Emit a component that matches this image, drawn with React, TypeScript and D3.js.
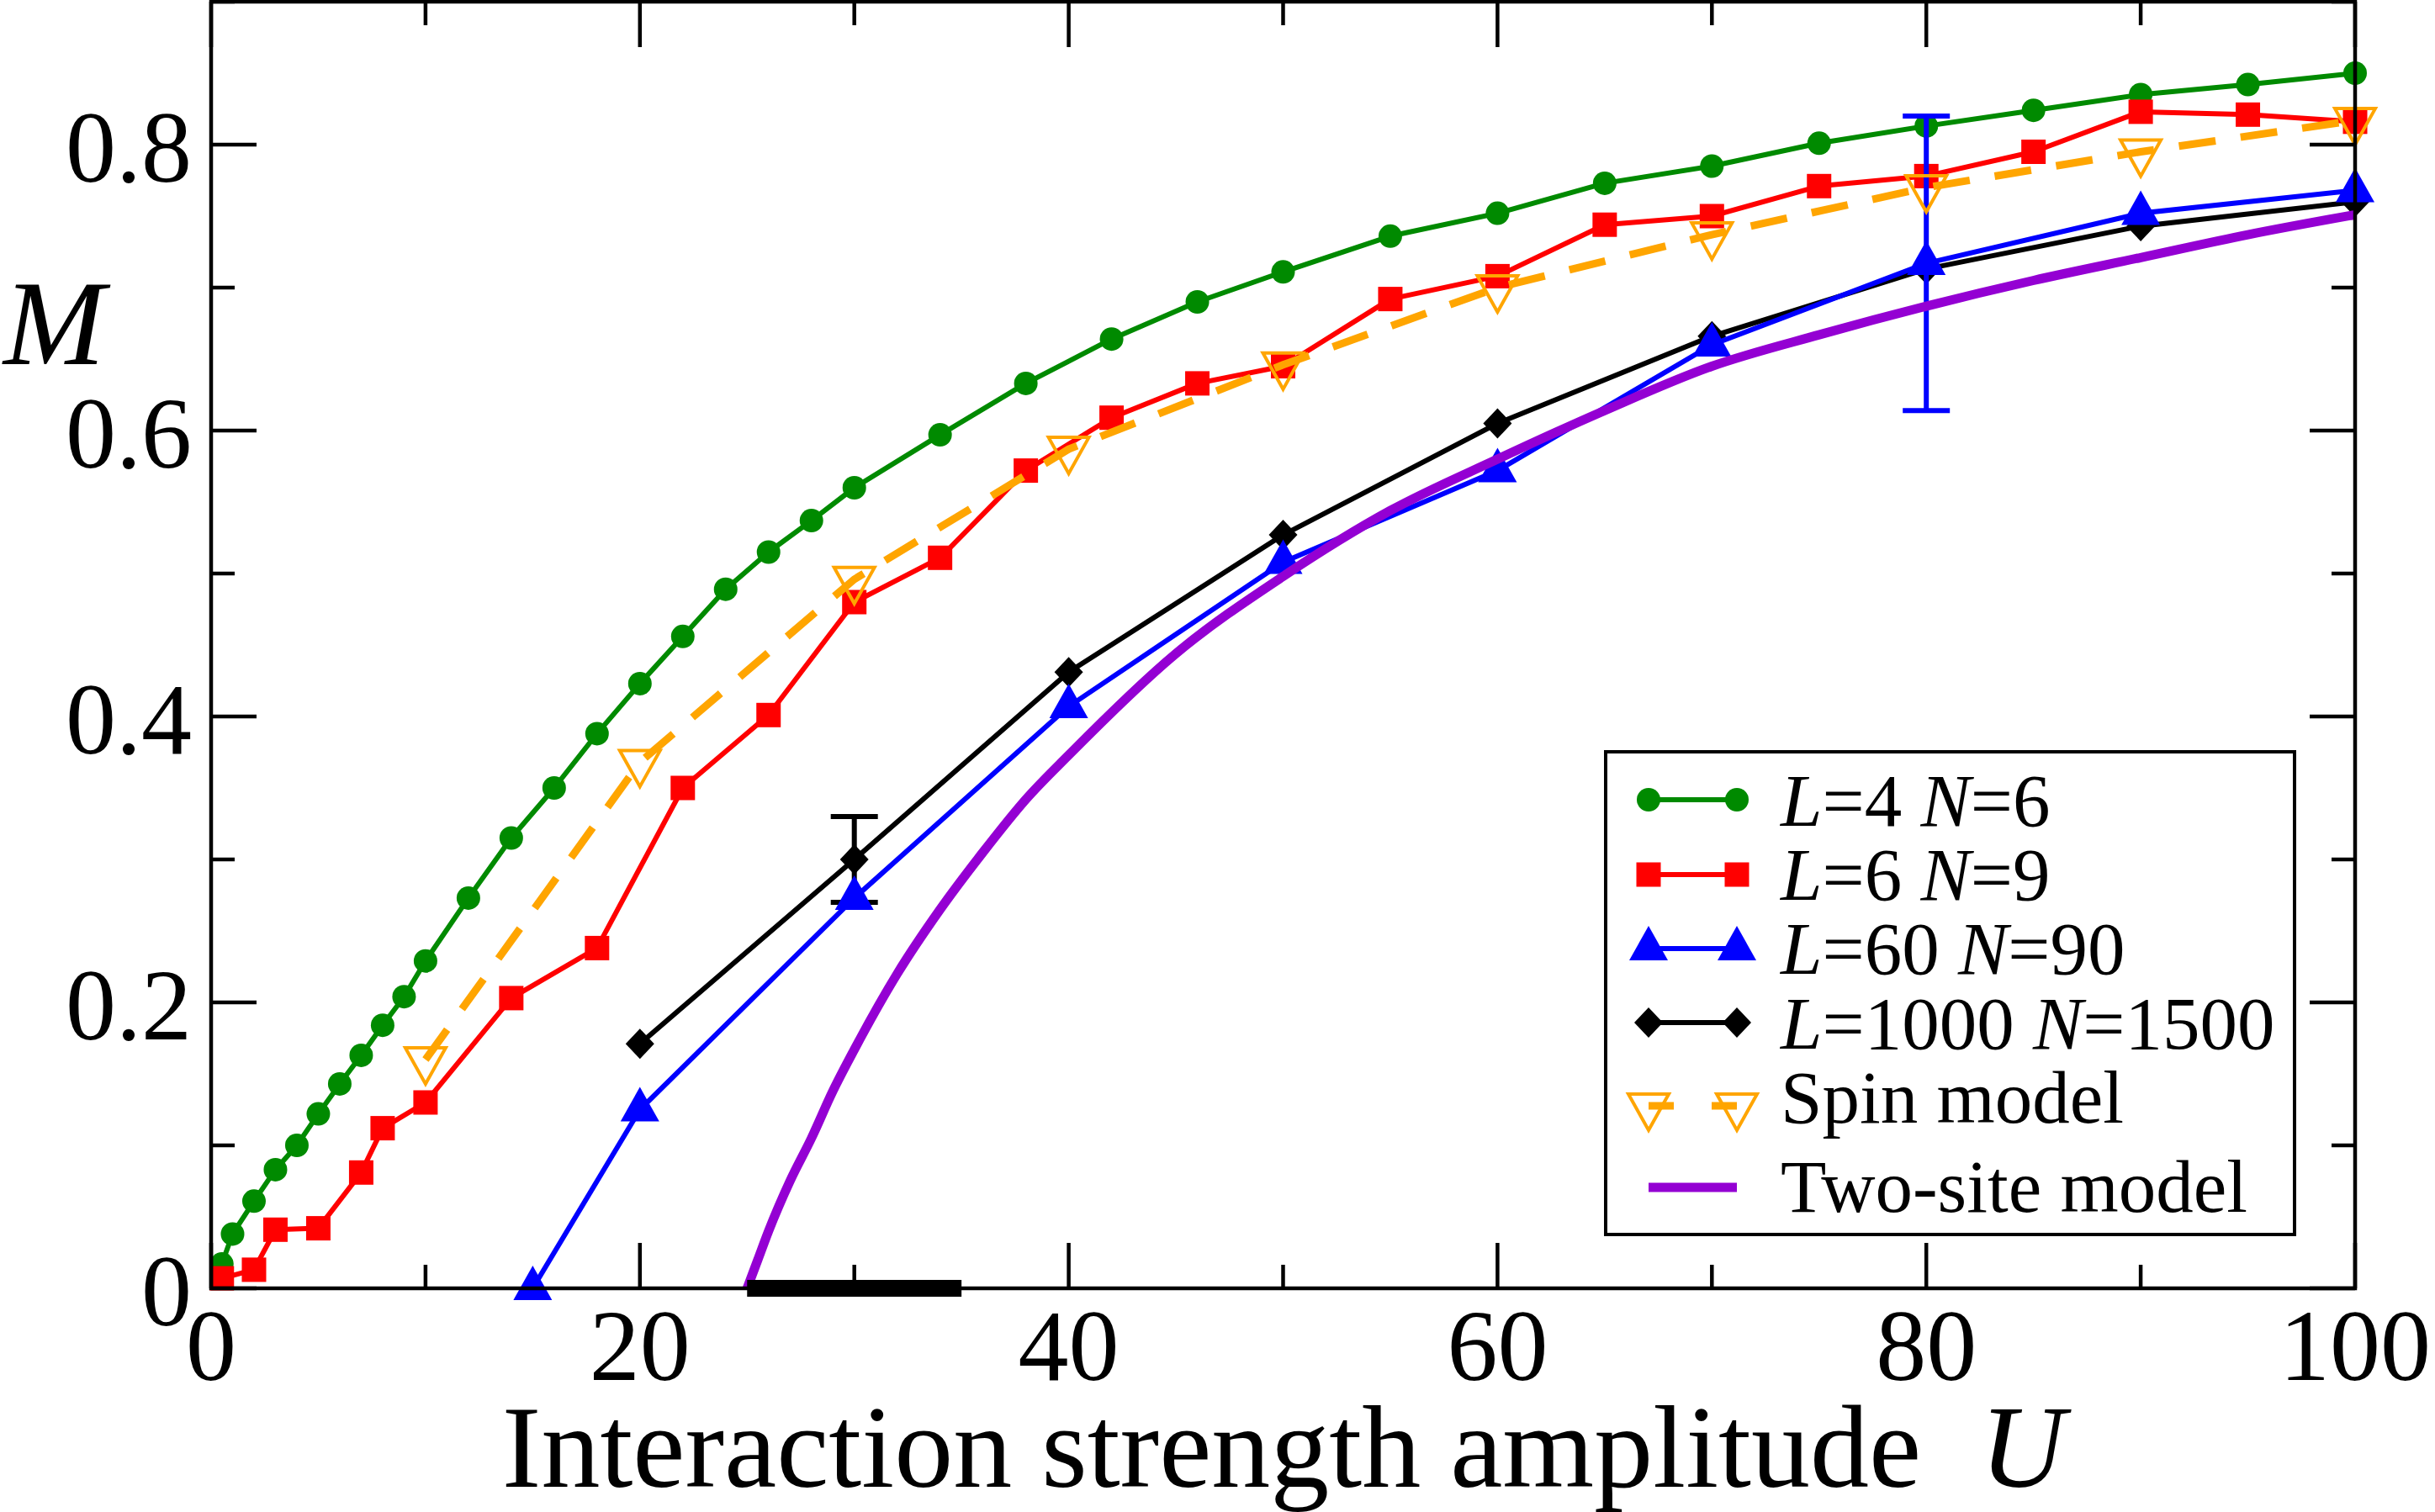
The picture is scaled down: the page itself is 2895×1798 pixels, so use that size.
import React from 'react';
import * as d3 from 'd3';

// ---- data ----
const uL4 = [0.5, 1, 2, 3, 4, 5, 6, 7, 8, 9, 10, 12, 14, 16, 18, 20, 22, 24, 26, 28, 30, 34, 38, 42, 46, 50, 55, 60, 65, 70, 75, 80, 85, 90, 95, 100];
const mL4 = [0.017, 0.038, 0.061, 0.083, 0.100, 0.122, 0.143, 0.163, 0.184, 0.204, 0.229, 0.273, 0.315, 0.350, 0.388, 0.423, 0.456, 0.489, 0.515, 0.537, 0.560, 0.597, 0.633, 0.664, 0.690, 0.711, 0.736, 0.752, 0.773, 0.785, 0.801, 0.813, 0.824, 0.835, 0.842, 0.850];

const uL6 = [0.5, 2, 3, 5, 7, 8, 10, 14, 18, 22, 26, 30, 34, 38, 42, 46, 50, 55, 60, 65, 70, 75, 80, 85, 90, 95, 100];
const mL6 = [0.007, 0.013, 0.041, 0.042, 0.081, 0.112, 0.130, 0.203, 0.238, 0.350, 0.401, 0.480, 0.511, 0.572, 0.609, 0.633, 0.645, 0.692, 0.708, 0.744, 0.750, 0.771, 0.778, 0.795, 0.823, 0.821, 0.816];

const uL60 = [15, 20, 30, 40, 50, 60, 70, 80, 90, 100];
const mL60 = [0.0, 0.125, 0.273, 0.407, 0.508, 0.572, 0.660, 0.717, 0.752, 0.768];
const errL60 = [0, 0, 0, 0, 0, 0, 0, 0.103, 0, 0];

const uL1000 = [20, 30, 40, 50, 60, 70, 80, 90, 100];
const mL1000 = [0.171, 0.300, 0.431, 0.527, 0.605, 0.666, 0.713, 0.743, 0.760];
const errL1000 = [0, 0.030, 0, 0, 0, 0, 0, 0, 0];

const uSpin = [10, 20, 30, 40, 50, 60, 70, 80, 90, 100];
const mSpin = [0.160, 0.368, 0.496, 0.587, 0.646, 0.700, 0.737, 0.770, 0.795, 0.817];

const uTwoSite = [25, 25.5, 26, 27, 28, 29, 30, 32, 34, 36, 38, 40, 45, 50, 55, 60, 65, 70, 75, 80, 85, 90, 95, 100];
const mTwoSite = [0, 0.02, 0.04, 0.075, 0.105, 0.138, 0.167, 0.22, 0.265, 0.305, 0.342, 0.373, 0.444, 0.498, 0.544, 0.580, 0.614, 0.645, 0.667, 0.687, 0.705, 0.721, 0.737, 0.751];

const criticalRange = [25, 35];

const xTicks = [0, 20, 40, 60, 80, 100];
const yTicks = [0, 0.2, 0.4, 0.6, 0.8];
const yTickLabels = ['0', '0.2', '0.4', '0.6', '0.8'];

const W = 2895;
const H = 1798;
const FONT = "'Liberation Serif', 'Times New Roman', serif";

const GREEN = '#008a00';
const RED = '#ff0000';
const BLUE = '#0000ff';
const ORANGE = '#ffa500';
const PURPLE = '#9400d3';

type Pt = { u: number; m: number; e?: number };
const zipPts = (u: number[], m: number[], e?: number[]): Pt[] =>
  u.map((v, i) => ({ u: v, m: m[i], e: e ? e[i] : 0 }));

// xmgrace-like symbols, centred on the data point
const Circle = ({ x, y, c }: any) => <circle cx={x} cy={y} r={14} fill={c} />;
const Square = ({ x, y, c }: any) => <rect x={x - 14.5} y={y - 14.5} width={29} height={29} fill={c} />;
const TriUp = ({ x, y, c }: any) => (
  <path d={`M${x},${y - 27}L${x + 23},${y + 14}L${x - 23},${y + 14}Z`} fill={c} />
);
const Diamond = ({ x, y, c }: any) => (
  <path d={`M${x},${y - 18}L${x + 17},${y}L${x},${y + 18}L${x - 17},${y}Z`} fill={c} />
);
const TriDown = ({ x, y, c }: any) => (
  <path d={`M${x},${y + 29}L${x + 24},${y - 14}L${x - 24},${y - 14}Z`} fill="none" stroke={c} strokeWidth={4} />
);

const txt = { fontFamily: FONT };

const App: React.FC = () => {
  const x = d3.scaleLinear().domain([0, 100]).range([251, 2800]);
  const y = d3.scaleLinear().domain([0, 0.9]).range([1532, 2]);

  const line = d3.line<Pt>().x(d => x(d.u)).y(d => y(d.m));
  const smooth = d3.line<Pt>().x(d => x(d.u)).y(d => y(d.m)).curve(d3.curveMonotoneX);

  const series = [
    { pts: zipPts(uL4, mL4), color: GREEN, width: 6, Mk: Circle },
    { pts: zipPts(uL6, mL6), color: RED, width: 6, Mk: Square },
    { pts: zipPts(uL1000, mL1000, errL1000), color: '#000', width: 6, Mk: Diamond },
    { pts: zipPts(uL60, mL60, errL60), color: BLUE, width: 6, Mk: TriUp },
  ];
  const spin = zipPts(uSpin, mSpin);
  const twoSite = zipPts(uTwoSite, mTwoSite);

  const [x0, x1] = x.range();
  const [y0, y1] = y.range();
  const xMinor = d3.range(0, 101, 10);
  const yMinor = d3.range(0, 0.91, 0.1);

  const legend = [
    { sym: 'circle', color: GREEN, L: '4', N: '6', sy: 951, ty: 982 },
    { sym: 'square', color: RED, L: '6', N: '9', sy: 1040, ty: 1070 },
    { sym: 'triup', color: BLUE, L: '60', N: '90', sy: 1128, ty: 1158 },
    { sym: 'diamond', color: '#000', L: '1000', N: '1500', sy: 1216, ty: 1247 },
    { sym: 'spin', color: ORANGE, text: 'Spin model', sy: 1315, ty: 1335 },
    { sym: 'two', color: PURPLE, text: 'Two-site model', sy: 1412, ty: 1441 },
  ];
  const lx0 = 1960;
  const lx1 = 2065;

  const mk = (sym: string, xx: number, yy: number, c: string) => {
    if (sym === 'circle') return <Circle x={xx} y={yy} c={c} />;
    if (sym === 'square') return <Square x={xx} y={yy} c={c} />;
    if (sym === 'triup') return <TriUp x={xx} y={yy} c={c} />;
    if (sym === 'diamond') return <Diamond x={xx} y={yy} c={c} />;
    if (sym === 'spin') return <TriDown x={xx} y={yy} c={c} />;
    return null;
  };

  return (
    <svg width={W} height={H} style={{ position: 'absolute', left: 0, top: 0, background: '#fff' }}>
      {/* data */}
      {series.map((s, i) => (
        <g key={i}>
          <path d={line(s.pts) || ''} fill="none" stroke={s.color} strokeWidth={s.width} strokeLinejoin="round" />
          {s.pts.filter(p => p.e).map((p, j) => (
            <g key={j} stroke={s.color} strokeWidth={6}>
              <line x1={x(p.u)} x2={x(p.u)} y1={y(p.m - p.e!)} y2={y(p.m + p.e!)} />
              <line x1={x(p.u) - 28} x2={x(p.u) + 28} y1={y(p.m - p.e!)} y2={y(p.m - p.e!)} />
              <line x1={x(p.u) - 28} x2={x(p.u) + 28} y1={y(p.m + p.e!)} y2={y(p.m + p.e!)} />
            </g>
          ))}
          {s.pts.map((p, j) => (
            <s.Mk key={j} x={x(p.u)} y={y(p.m)} c={s.color} />
          ))}
        </g>
      ))}
      <path d={line(spin) || ''} fill="none" stroke={ORANGE} strokeWidth={9} strokeDasharray="44 30" />
      {spin.map((p, j) => (
        <TriDown key={j} x={x(p.u)} y={y(p.m)} c={ORANGE} />
      ))}
      <path d={smooth(twoSite) || ''} fill="none" stroke={PURPLE} strokeWidth={11} />
      <line x1={x(criticalRange[0])} x2={x(criticalRange[1])} y1={y(0)} y2={y(0)} stroke="#000" strokeWidth={20} />

      {/* frame and ticks */}
      <rect x={x0} y={y1} width={x1 - x0} height={y0 - y1} fill="none" stroke="#000" strokeWidth={4.5} />
      <g stroke="#000" strokeWidth={4.5}>
        {xMinor.map(t => {
          const len = t % 20 === 0 ? 54 : 28;
          return (
            <g key={t}>
              <line x1={x(t)} x2={x(t)} y1={y0} y2={y0 - len} />
              <line x1={x(t)} x2={x(t)} y1={y1} y2={y1 + len} />
            </g>
          );
        })}
        {yMinor.map((t, i) => {
          const len = i % 2 === 0 ? 54 : 28;
          return (
            <g key={i}>
              <line x1={x0} x2={x0 + len} y1={y(t)} y2={y(t)} />
              <line x1={x1} x2={x1 - len} y1={y(t)} y2={y(t)} />
            </g>
          );
        })}
      </g>
      {xTicks.map(t => (
        <text key={t} x={x(t)} y={1641} fontSize={120} textAnchor="middle" style={txt}>{t}</text>
      ))}
      {yTicks.map((t, i) => (
        <text key={t} x={228} y={y(t) + 44} fontSize={120} textAnchor="end" style={txt}>{yTickLabels[i]}</text>
      ))}

      {/* axis titles */}
      <text x={4} y={433} fontSize={145} fontStyle="italic" style={txt}>M</text>
      <text x={1526} y={1768} fontSize={140} textAnchor="middle" style={{ ...txt, whiteSpace: 'pre' }}>
        {'Interaction strength amplitude  '}
        <tspan fontStyle="italic">U</tspan>
      </text>

      {/* legend */}
      <rect x={1909} y={894} width={819} height={574} fill="#fff" stroke="#000" strokeWidth={4} />
      {legend.map((e, i) => (
        <g key={i}>
          {e.sym === 'spin' ? (
            <line x1={lx0} x2={lx1} y1={e.sy} y2={e.sy} stroke={e.color} strokeWidth={9} strokeDasharray="30 45 30" />
          ) : (
            <line x1={lx0} x2={lx1} y1={e.sy} y2={e.sy} stroke={e.color} strokeWidth={e.sym === 'two' ? 11 : 6} />
          )}
          {mk(e.sym, lx0, e.sy, e.color)}
          {mk(e.sym, lx1, e.sy, e.color)}
          <text x={2117} y={e.ty} fontSize={89} style={txt}>
            {e.text ? e.text : (
              <>
                <tspan fontStyle="italic">L</tspan>
                {`=${e.L} `}
                <tspan fontStyle="italic">N</tspan>
                {`=${e.N}`}
              </>
            )}
          </text>
        </g>
      ))}
    </svg>
  );
};

export default App;
